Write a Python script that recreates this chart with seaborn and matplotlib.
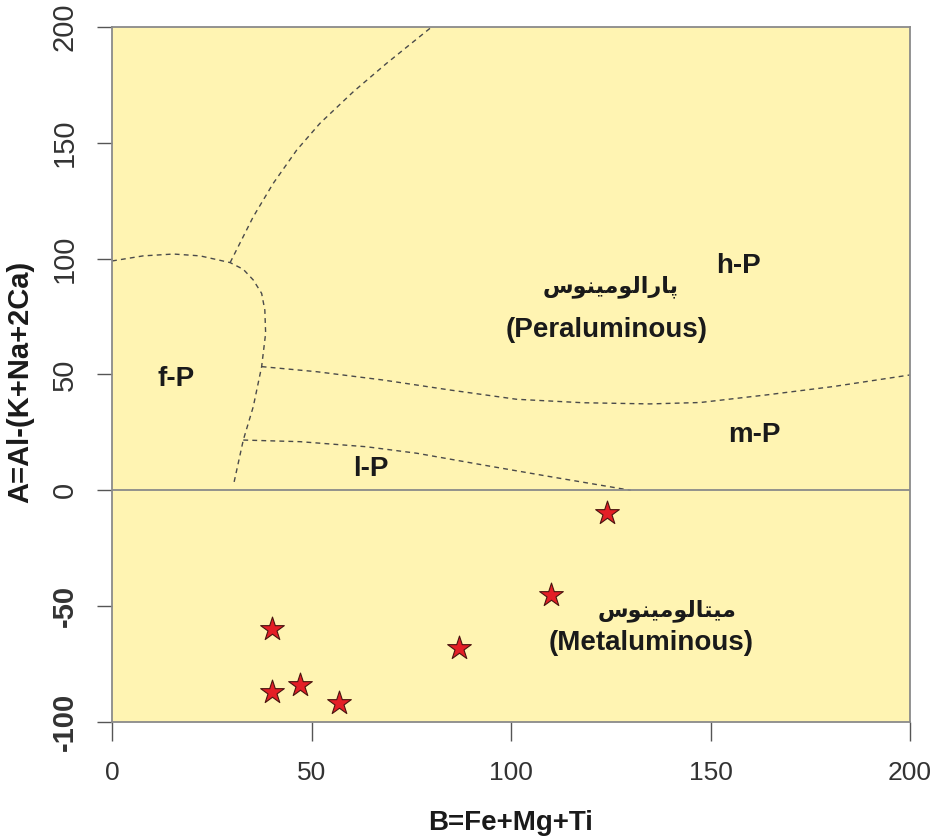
import matplotlib
matplotlib.use("Agg")
import matplotlib.pyplot as plt
import seaborn as sns
import pandas as pd

sns.set_theme(style="white")
plt.rcParams['font.family'] = ['Liberation Sans', 'DejaVu Sans']

# sample points: B = Fe+Mg+Ti, A = Al-(K+Na+2Ca)
b_values = [124, 110, 87, 40, 40, 47, 57]
a_values = [-10, -45, -68, -60, -87, -84, -92]

# dashed field boundaries
fp_x = [0, 7.8, 15.4, 22.1, 29.6, 32.9, 35.4, 37.5, 38.3, 38.5, 37.5, 35.4, 32.9, 30.4]
fp_y = [99, 101.2, 102.0, 101.2, 98.3, 95.4, 90.8, 85.0, 77.8, 67.8, 53.4, 36.1, 21.7, 2]
hp_x = [29.6, 35.4, 40.4, 46.3, 52.1, 60.5, 68.8, 80.1]
hp_y = [98.3, 118.1, 132.5, 146.9, 158.4, 172.1, 184.3, 200]
mp_x = [37.5, 51.3, 68.0, 84.7, 101.4, 118.1, 134.8, 147.4, 164.1, 180.8, 200]
mp_y = [53.4, 51.2, 47.6, 43.3, 39.3, 37.8, 37.3, 37.9, 41.2, 44.8, 49.8]
lp_x = [32.9, 47.1, 63.8, 76.4, 93.1, 109.8, 130]
lp_y = [21.7, 21.0, 18.8, 16.0, 10.9, 5.9, 0]

# field names
field_labels = ["h-P", "f-P", "m-P", "l-P"]
field_x = [157, 16, 161, 65]
field_y = [97, 48, 24, 9]

# Persian names, written as presentation forms in visual (left-to-right) order
# "پارالومینوس" and "میتالومینوس"
persian_labels = ["\uFEB1\uFEEE\uFEE8\uFBFF\uFEE3\uFEEE\uFEDF\uFE8D\uFEAD\uFE8E\uFB58",
                  "\uFEB1\uFEEE\uFEE8\uFBFF\uFEE3\uFEEE\uFEDF\uFE8E\uFE98\uFBFF\uFEE3"]
persian_x = [125, 139]
persian_y = [88, -52]
english_labels = ["(Peraluminous)", "(Metaluminous)"]
english_x = [124, 135]
english_y = [69, -66]

x_ticks = [0, 50, 100, 150, 200]
y_ticks = [-100, -50, 0, 50, 100, 150, 200]

df = pd.DataFrame({"B": b_values, "A": a_values})

fig = plt.figure(figsize=(9.35, 8.39), dpi=100)
ax = fig.add_axes([0.1198, 0.1395, 0.8535, 0.8283])
ax.set_facecolor("#FFF4B2")

line_kw = dict(color="#4a4a4a", lw=1.0, ls=(0, (3.5, 3)))
for xs, ys in [(fp_x, fp_y), (hp_x, hp_y), (mp_x, mp_y), (lp_x, lp_y)]:
    ax.plot(xs, ys, **line_kw)

ax.axhline(0, color="#8a8a8a", lw=1.3)

sns.scatterplot(data=df, x="B", y="A", ax=ax, marker="*", s=320,
                color="#E41E26", edgecolor="#4a1410", linewidth=0.8, zorder=5)

for t, x, y in zip(field_labels, field_x, field_y):
    ax.text(x, y, t, fontsize=20, fontweight="bold", color="#1a1a1a",
            ha="center", va="center")
for t, x, y in zip(persian_labels, persian_x, persian_y):
    ax.text(x, y, t, fontsize=16, fontweight="bold", color="#1a1a1a",
            ha="center", va="center", family=["DejaVu Sans"])
for t, x, y in zip(english_labels, english_x, english_y):
    ax.text(x, y, t, fontsize=20, fontweight="bold", color="#1a1a1a",
            ha="center", va="center")

ax.set_xlim(0, 200)
ax.set_ylim(-100, 200)
ax.set_xticks(x_ticks)
ax.set_yticks(y_ticks)
ax.set_xticklabels([str(v) for v in x_ticks], fontsize=19, color="#333333")
ylabels = ax.set_yticklabels([str(v) for v in y_ticks], fontsize=21,
                             rotation=90, va="center", color="#333333")
for lab, v in zip(ylabels, y_ticks):
    if v < 0:
        lab.set_fontweight("bold")

ax.tick_params(axis="x", direction="out", length=14, width=1.0,
               color="#555555", pad=14, bottom=True)
ax.tick_params(axis="y", direction="out", length=11, width=1.0,
               color="#555555", pad=13, left=True)

for sp in ax.spines.values():
    sp.set_color("#8a8a8a")
    sp.set_linewidth(1.3)

ax.set_xlabel("B=Fe+Mg+Ti", fontsize=20, fontweight="bold", color="#1a1a1a")
ax.set_ylabel("A=Al-(K+Na+2Ca)", fontsize=21, fontweight="bold", color="#1a1a1a")
ax.xaxis.set_label_coords(0.5, -0.127)
ax.yaxis.set_label_coords(-0.098, 0.49)

fig.savefig("out.png", dpi=100, facecolor="white")
